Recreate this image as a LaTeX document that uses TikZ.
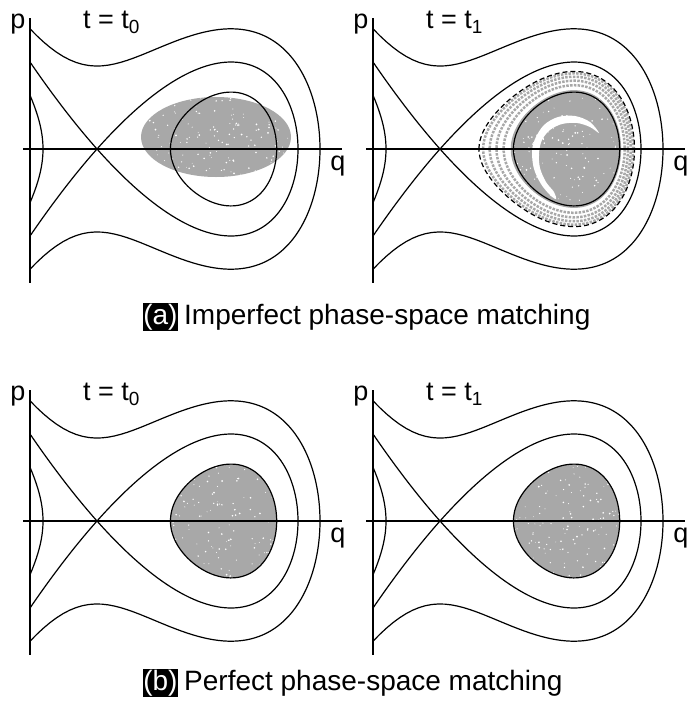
\documentclass[tikz,border=0pt]{standalone}
\usepackage{fontspec}
\setmainfont{Liberation Sans}
\definecolor{dotgray}{RGB}{168,168,168}
\newcommand{\orbitpath}[3]{%
  plot[domain=0:180,samples=73,variable=\t]
   ({(#1+#2)/2-(#2-#1)/2*cos(\t)},{-100*sqrt(max(0,ff(((#1+#2)/2-(#2-#1)/2*cos(\t))/100)-#3))})
  -- plot[domain=180:360,samples=73,variable=\t]
   ({(#1+#2)/2-(#2-#1)/2*cos(\t)},{100*sqrt(max(0,ff(((#1+#2)/2-(#2-#1)/2*cos(\t))/100)-#3))})
  -- cycle}
\newcommand{\speckles}[5]{%
  \foreach \i in {1,...,#5}{%
    \pgfmathsetmacro{\sx}{#1+#3*rnd}%
    \pgfmathsetmacro{\sy}{#2+#4*rnd}%
    \pgfmathsetmacro{\sr}{0.4+0.6*rnd}%
    \fill[white] (\sx,\sy) circle[radius=\sr pt];
  }}
\newcommand{\portrait}[2]{%
  % outer orbit
  \draw[orbit] plot[domain=0:90,samples=70,variable=\t]
      ({-67+290*sin(\t)},{-100*sqrt(max(0,ff((-67+290*sin(\t))/100)+0.6883))})
   -- plot[domain=90:0,samples=70,variable=\t]
      ({-67+290*sin(\t)},{100*sqrt(max(0,ff((-67+290*sin(\t))/100)+0.6883))});
  % separatrix
  \draw[orbit] plot[domain=0:90,samples=80,variable=\t]
      ({-67+268*sin(\t)},{-79.316*(-0.67+2.68*sin(\t))*sqrt(max(0,2.68-2.68*sin(\t)))})
   -- plot[domain=90:0,samples=80,variable=\t]
      ({-67+268*sin(\t)},{79.316*(-0.67+2.68*sin(\t))*sqrt(max(0,2.68-2.68*sin(\t)))});
  % small orbit left of the barrier
  \draw[orbit] plot[domain=0:90,samples=30,variable=\t]
      ({-67+13*sin(\t)},{-100*sqrt(max(0,ff((-67+13*sin(\t))/100)-0.4678))})
   -- plot[domain=90:0,samples=30,variable=\t]
      ({-67+13*sin(\t)},{100*sqrt(max(0,ff((-67+13*sin(\t))/100)-0.4678))});
  % inner closed orbit
  \draw[orbit] \orbitpath{73.5}{179.7}{0.433};
  % axes
  \draw[axisline] (-67,-131) -- (-67,134);
  \draw[axisline] (-74,0) -- (245,0);
  \node[lbl, anchor=base] (#1p) at (-79,-121) {p};
  \node[lbl, anchor=base west] (#1t) at (-14,-121) {t = t\raisebox{-0.2em}{\fontsize{19}{19}\selectfont #2}};
  \node[lbl, anchor=base] (#1q) at (241,21) {q};
}
\begin{document}
\begin{tikzpicture}[x=1pt,y=-1pt,
  declare function={ff(\x)=0.6291*\x*\x*(2.01-\x);},
  axisline/.style={line width=2.4pt},
  orbit/.style={line width=1.2pt},
  ring/.style={draw=dotgray,line width=2.5pt,dash pattern=on 2.5pt off 1.3pt},
  lbl/.style={font=\fontsize{27}{30}\selectfont, inner sep=0pt},
  captxt/.style={font=\fontsize{28}{32}\selectfont, inner sep=0pt},
  capbox/.style={font=\fontsize{28}{32}\selectfont, fill=black, text=white, inner xsep=0.3pt, inner ysep=1pt, outer sep=0pt}
]
\pgfmathsetseed{1234}
\useasboundingbox (0,0) rectangle (687,705);

% ---------- (a) left ----------
\begin{scope}[shift={(97,149)}]
  \fill[dotgray] (119,-12) ellipse[x radius=75, y radius=40];
  \begin{scope}
    \clip (119,-12) ellipse[x radius=75, y radius=40];
    \speckles{44}{-52}{150}{80}{160}
  \end{scope}
  \portrait{al}{0}
\end{scope}

% ---------- (a) right ----------
\begin{scope}[shift={(440,149)}]
  \foreach \a/\b/\c in {43.15/193.1/0.185, 49.7/190.73/0.235, 56.5/187.95/0.29, 63.65/184.69/0.35}
    {\draw[ring] \orbitpath{\a}{\b}{\c};}
  \fill[dotgray] \orbitpath{70.73}{181.14}{0.41};
  \begin{scope}
    \clip \orbitpath{70.73}{181.14}{0.41};
    \speckles{70}{-60}{112}{120}{140}
  \end{scope}
  \fill[white] plot[smooth cycle, tension=0.55] coordinates {
    (159,-16) (150,-27) (135,-33) (118,-32) (104,-24) (95,-10) (92,3) (94,20) (101,35) (110,46) (116,50)
    (114,43) (106,33) (100,19) (99,4) (102,-9) (110,-19) (122,-25) (137,-26) (150,-22)};
  \draw[line width=1.2pt, dash pattern=on 5pt off 3pt] \orbitpath{39.0}{194.49}{0.155};
  \portrait{ar}{1}
\end{scope}

% ---------- (b) left ----------
\begin{scope}[shift={(97,521)}]
  \fill[dotgray] \orbitpath{73.5}{179.7}{0.433};
  \begin{scope}
    \clip \orbitpath{73.5}{179.7}{0.433};
    \speckles{72}{-60}{110}{120}{150}
  \end{scope}
  \portrait{bl}{0}
\end{scope}

% ---------- (b) right ----------
\begin{scope}[shift={(440,521)}]
  \fill[dotgray] \orbitpath{73.5}{179.7}{0.433};
  \begin{scope}
    \clip \orbitpath{73.5}{179.7}{0.433};
    \speckles{72}{-60}{110}{120}{150}
  \end{scope}
  \portrait{br}{1}
\end{scope}

% ---------- captions ----------
\node[capbox, anchor=base west] (boxa) at (143,324) {(a)};
\node[captxt, anchor=base west] (capa) at (184,324) {Imperfect phase-space matching};
\node[capbox, anchor=base west] (boxb) at (143,690) {(b)};
\node[captxt, anchor=base west] (capb) at (184,690) {Perfect phase-space matching};
\end{tikzpicture}
\end{document}
